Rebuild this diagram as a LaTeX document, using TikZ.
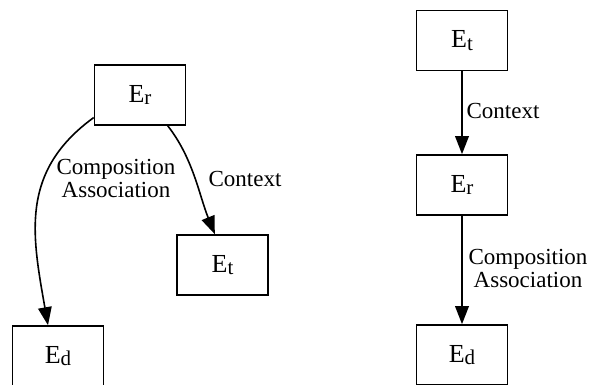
\documentclass[tikz,border=0pt]{standalone}
\usepackage{fontspec}
\setmainfont{Liberation Serif}
\usetikzlibrary{arrows.meta}
\newcommand{\ent}[1]{\fontsize{13}{13}\selectfont E\raisebox{-1.4pt}{\fontsize{10.5}{10.5}\selectfont #1}}
\begin{document}
\begin{tikzpicture}[x=0.5pt,y=0.5pt,
  entbox/.style={draw, line width=0.8pt, minimum width=45.5pt, minimum height=30pt, inner sep=0pt},
  lbl/.style={font=\fontsize{11.5}{11.5}\selectfont, align=center, inner sep=0pt},
  conn/.style={line width=0.8pt, -{Triangle[length=9pt,width=6.8pt]}}]
\useasboundingbox (0,0) rectangle (590,385);
% left diagram
\node[entbox] (Lr) at (140,290) {\ent{r}};
\node[entbox] (Lt) at (222.5,120) {\ent{t}};
\node[entbox] (Ld) at (58,29) {\ent{d}};
\draw[conn] (Lr.206) to[out=216,in=100,looseness=1.1] (Ld.108);
\draw[conn] (Lr.-48) to[out=-52,in=112,looseness=0.9] (Lt.104);
\node[lbl] (Lca) at (116,206.3) {Composition\\Association};
\node[lbl,anchor=base] (Lc) at (245,198) {Context};
% right diagram
\node[entbox] (Rt) at (462,344.5) {\ent{t}};
\node[entbox] (Rr) at (462,200) {\ent{r}};
\node[entbox] (Rd) at (462,30) {\ent{d}};
\draw[conn] (Rt) -- (Rr);
\draw[conn] (Rr) -- (Rd);
\node[lbl,anchor=base] (Rc) at (503,266) {Context};
\node[lbl] (Rca) at (528,116.3) {Composition\\Association};
\end{tikzpicture}
\end{document}
